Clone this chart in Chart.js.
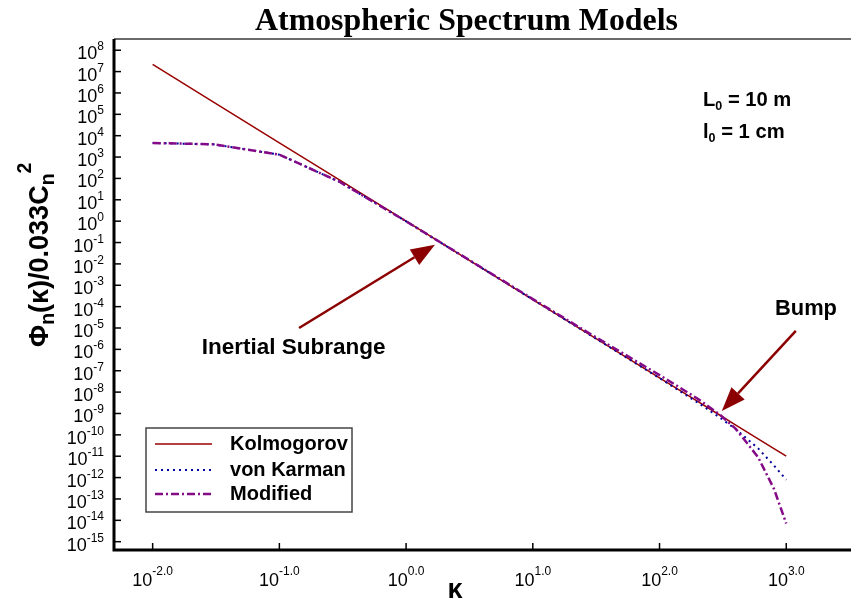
<!DOCTYPE html>
<html><head><meta charset="utf-8">
<script src="https://cdn.jsdelivr.net/npm/chart.js@4/dist/chart.umd.min.js"></script>
<style>html,body{margin:0;padding:0;background:#fff;}canvas{display:block;}</style>
</head><body>
<canvas id="c" width="851" height="601"></canvas>
<script>
// ---- data ----
const kappa      = [0.01, 0.03, 0.1, 0.3, 1, 3, 10, 30, 100, 200, 300, 400, 600, 800, 1000];
const kolmogorov = [2.15e7, 3.84e5, 4.64e3, 82.6, 1.0, 1.78e-2, 2.15e-4, 3.84e-6, 4.64e-8, 3.66e-9, 8.26e-10, 2.88e-10, 6.5e-11, 2.26e-11, 1.0e-11];
const vonKarman  = [4.56e3, 3.96e3, 1.30e3, 68.1, 0.98, 1.78e-2, 2.15e-4, 3.82e-6, 4.51e-8, 3.26e-9, 6.38e-10, 1.82e-10, 2.33e-11, 3.65e-12, 7.9e-13];
const modified   = [4.56e3, 3.96e3, 1.30e3, 68.2, 0.987, 1.81e-2, 2.26e-4, 4.37e-6, 6.28e-8, 4.93e-9, 8.73e-10, 1.90e-10, 8.97e-12, 2.96e-13, 7.1e-15];
const seriesNames = ["Kolmogorov", "von Karman", "Modified"];
const xTickValues = [0.01, 0.1, 1, 10, 100, 1000];
const xTickExps   = ["-2.0", "-1.0", "0.0", "1.0", "2.0", "3.0"];
const yTickExps   = [8,7,6,5,4,3,2,1,0,-1,-2,-3,-4,-5,-6,-7,-8,-9,-10,-11,-12,-13,-14,-15];
const titleText = "Atmospheric Spectrum Models";
const xTitle = "κ";
const paramLines = [["L", "0", " = 10 m"], ["l", "0", " = 1 cm"]];
// annotation arrows in data coordinates
const arrowNotes = [
  {tail:[0.143, 1.0e-5], tip:[1.69, 0.079], label:"Inertial Subrange"},
  {tail:[1190, 7.4e-6], tip:[310, 1.3e-9], label:"Bump"}
];

const SANS = '"Liberation Sans", Arial, Helvetica, sans-serif';
const SERIF = '"Liberation Serif", "Times New Roman", serif';
const colors = ["#990000", "#00009c", "#840a88"];
const dashes = [[], [2, 4], [8, 3, 2, 3]];
const widths = [1.5, 2, 2.5];

function fitSize(ctx, text, weight, family, target) {
  ctx.font = weight + " 100px " + family;
  return 100 * target / ctx.measureText(text).width;
}

const decor = {
  id: 'decor',
  afterDraw(chart) {
    const {ctx, chartArea: a, scales: {x, y}} = chart;
    ctx.save();
    // top border
    ctx.strokeStyle = '#3a3a3a'; ctx.lineWidth = 1.5;
    ctx.beginPath(); ctx.moveTo(a.left, a.top); ctx.lineTo(a.right, a.top); ctx.stroke();
    // axes
    ctx.strokeStyle = '#000'; ctx.lineWidth = 3;
    ctx.beginPath(); ctx.moveTo(a.left, a.top); ctx.lineTo(a.left, a.bottom); ctx.lineTo(a.right, a.bottom); ctx.stroke();
    // y ticks + labels
    ctx.lineWidth = 1.5; ctx.fillStyle = '#000'; ctx.textBaseline = 'alphabetic';
    yTickExps.forEach(e => {
      const py = y.getPixelForValue(Math.pow(10, e));
      ctx.beginPath(); ctx.moveTo(a.left, py); ctx.lineTo(a.left + 7, py); ctx.stroke();
      const sup = String(e);
      ctx.font = '12px ' + SANS; const ws = ctx.measureText(sup).width;
      ctx.font = '18px ' + SANS; const wb = ctx.measureText('10').width;
      const right = a.left - 10;
      ctx.textAlign = 'left';
      ctx.fillText('10', right - ws - wb, py + 9);
      ctx.font = '12px ' + SANS;
      ctx.fillText(sup, right - ws, py + 0);
    });
    // x ticks + labels
    xTickValues.forEach((v, i) => {
      const px = x.getPixelForValue(v);
      ctx.beginPath(); ctx.moveTo(px, a.bottom); ctx.lineTo(px, a.bottom - 7); ctx.stroke();
      const sup = xTickExps[i];
      ctx.font = '12px ' + SANS; const ws = ctx.measureText(sup).width;
      ctx.font = '18px ' + SANS; const wb = ctx.measureText('10').width;
      const left = px - (ws + wb) / 2;
      ctx.textAlign = 'left';
      ctx.fillText('10', left, 586);
      ctx.font = '12px ' + SANS;
      ctx.fillText(sup, left + wb, 575);
    });
    // title
    const ts = fitSize(ctx, titleText, 'bold', SERIF, 423);
    ctx.font = 'bold ' + ts + 'px ' + SERIF; ctx.textAlign = 'center';
    ctx.fillText(titleText, 466.5, 30);
    // x title
    ctx.font = 'bold 27px ' + SANS;
    ctx.fillText(xTitle, 455, 598);
    // y title (rotated)
    ctx.save();
    ctx.translate(48, 347); ctx.rotate(-Math.PI / 2);
    const parts = [["Φ", 1, 0], ["n", 0.72, 6], ["(κ)/0.033C", 1, 0], ["n", 0.72, 6], ["2", 0.72, -17]];
    const base = 27;
    let cx = 0; ctx.textAlign = 'left';
    parts.forEach(p => {
      ctx.font = 'bold ' + (base * p[1]) + 'px ' + SANS;
      ctx.fillText(p[0], cx, p[2]);
      cx += ctx.measureText(p[0]).width;
    });
    ctx.restore();
    // parameter text
    ctx.textAlign = 'left';
    const ps = fitSize(ctx, "L  = 10 m", 'bold', SANS, 87);
    paramLines.forEach((pl, i) => {
      const by = 106 + i * 32;
      let cx2 = 703;
      ctx.font = 'bold ' + ps + 'px ' + SANS; ctx.fillText(pl[0], cx2, by); cx2 += ctx.measureText(pl[0]).width;
      ctx.font = 'bold ' + (ps * 0.62) + 'px ' + SANS; ctx.fillText(pl[1], cx2, by + 4); cx2 += ctx.measureText(pl[1]).width;
      ctx.font = 'bold ' + ps + 'px ' + SANS; ctx.fillText(pl[2], cx2, by);
    });
    // arrows + labels
    const labelPos = [[201.7, 354, 184], [775, 315, 62]];
    arrowNotes.forEach((n, i) => {
      const tx = x.getPixelForValue(n.tail[0]), ty = y.getPixelForValue(n.tail[1]);
      const hx = x.getPixelForValue(n.tip[0]), hy = y.getPixelForValue(n.tip[1]);
      const ang = Math.atan2(hy - ty, hx - tx);
      const L = 24, W = 9;
      const bx = hx - L * Math.cos(ang), by = hy - L * Math.sin(ang);
      ctx.strokeStyle = '#8b0000'; ctx.fillStyle = '#8b0000'; ctx.lineWidth = 2.5;
      ctx.beginPath(); ctx.moveTo(tx, ty); ctx.lineTo(bx, by); ctx.stroke();
      ctx.beginPath(); ctx.moveTo(hx, hy);
      ctx.lineTo(bx + W * Math.sin(ang), by - W * Math.cos(ang));
      ctx.lineTo(bx - W * Math.sin(ang), by + W * Math.cos(ang));
      ctx.closePath(); ctx.fill();
      const lp = labelPos[i];
      const fs = fitSize(ctx, n.label, 'bold', SANS, lp[2]);
      ctx.fillStyle = '#000'; ctx.font = 'bold ' + fs + 'px ' + SANS; ctx.textAlign = 'left';
      ctx.fillText(n.label, lp[0], lp[1]);
    });
    // legend
    ctx.fillStyle = '#fff'; ctx.fillRect(146, 428, 206, 84);
    ctx.strokeStyle = '#444'; ctx.lineWidth = 1.5; ctx.strokeRect(146, 428, 206, 84);
    const ls = fitSize(ctx, seriesNames[0], 'bold', SANS, 118);
    const rows = [444, 470, 494];
    seriesNames.forEach((nm, i) => {
      ctx.strokeStyle = colors[i]; ctx.lineWidth = widths[i]; ctx.setLineDash(dashes[i]);
      ctx.beginPath(); ctx.moveTo(155, rows[i]); ctx.lineTo(212, rows[i]); ctx.stroke();
      ctx.setLineDash([]);
      ctx.fillStyle = '#000'; ctx.font = 'bold ' + ls + 'px ' + SANS;
      ctx.fillText(nm, 230, rows[i] + 6);
    });
    ctx.restore();
  }
};

const series = [kolmogorov, vonKarman, modified];
new Chart(document.getElementById('c'), {
  type: 'line',
  data: {
    datasets: series.map((s, i) => ({
      label: seriesNames[i],
      data: kappa.map((k, j) => ({x: k, y: s[j]})),
      borderColor: colors[i], borderWidth: widths[i], borderDash: dashes[i],
      pointRadius: 0, fill: false, tension: 0,
      order: [2, 1, 0][i]
    }))
  },
  options: {
    responsive: false, animation: false, devicePixelRatio: 1,
    layout: {padding: {left: 114, top: 39, right: 0, bottom: 51}},
    plugins: {legend: {display: false}, tooltip: {enabled: false}, title: {display: false}},
    scales: {
      x: {type: 'logarithmic', display: false, min: Math.pow(10, -2.305), max: Math.pow(10, 3.511)},
      y: {type: 'logarithmic', display: false, min: Math.pow(10, -15.389), max: Math.pow(10, 8.525)}
    }
  },
  plugins: [decor]
});
</script>
</body></html>
